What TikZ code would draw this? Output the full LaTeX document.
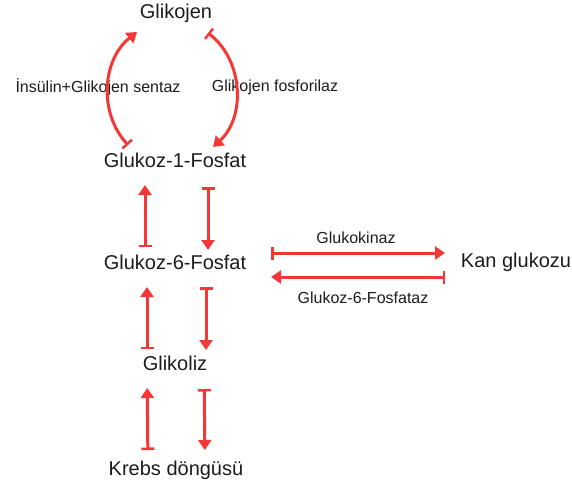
\documentclass[tikz,border=0pt]{standalone}
\usepackage{fontspec}
\setmainfont{Liberation Sans}
\usetikzlibrary{arrows.meta}

\definecolor{yolred}{RGB}{244,56,56}
\definecolor{yazi}{RGB}{28,28,28}

\tikzset{
    madde/.style={inner sep=0pt, text=yazi, font=\fontsize{20}{24}\selectfont},
    enzim/.style={inner sep=0pt, text=yazi, font=\fontsize{16}{19}\selectfont},
    yol/.style={draw=yolred, line width=3pt,
        {Bar[width=13pt,line width=2.5pt]}-{Triangle[length=10pt,width=13pt]}},
}

\begin{document}
\begin{tikzpicture}[x=1pt,y=-1pt]
    \useasboundingbox (0,0) rectangle (572,489);

    % Metabolitler
    \node[madde] (glikojen) at (176,13)  {Glikojen};
    \node[madde] (g1f)      at (175,160) {Glukoz-1-Fosfat};
    \node[madde] (g6f)      at (175,262) {Glukoz-6-Fosfat};
    \node[madde] (kan)      at (516,262) {Kan glukozu};
    \node[madde] (glikoliz) at (175,363) {Glikoliz};
    \node[madde] (krebs)    at (176,470) {Krebs döngüsü};

    % Enzimler
    \node[enzim] (sentaz)    at (98,87)   {İnsülin+Glikojen sentaz};
    \node[enzim] (fosforilaz) at (275,87) {Glikojen fosforilaz};
    \node[enzim] (kinaz)     at (356,238) {Glukokinaz};
    \node[enzim] (fosfataz)  at (363,298) {Glukoz-6-Fosfataz};

    % Glikojen <-> Glukoz-1-Fosfat
    \draw[yol] ([xshift=-47pt,yshift=15pt]g1f.center) to[bend left=47]
        ([xshift=-39pt,yshift=-19pt]glikojen.center);
    \draw[yol] ([xshift=32pt,yshift=-20pt]glikojen.center) to[bend left=50]
        ([xshift=38pt,yshift=13pt]g1f.center);

    % Dikey yollar
    \draw[yol, shorten <=15pt, shorten >=25pt] ([xshift=-30pt]g6f.center) -- ([xshift=-30pt]g1f.center);
    \draw[yol, shorten <=27pt, shorten >=12pt] ([xshift=33pt]g1f.center) -- ([xshift=33pt]g6f.center);
    \draw[yol, shorten <=14pt, shorten >=25pt] ([xshift=-28pt]glikoliz.center) -- ([xshift=-28pt]g6f.center);
    \draw[yol, shorten <=25pt, shorten >=13pt] ([xshift=31pt]g6f.center) -- ([xshift=31pt]glikoliz.center);
    \draw[yol, shorten <=20pt, shorten >=25pt] ([xshift=-28pt]krebs.center) -- ([xshift=-28pt]glikoliz.center);
    \draw[yol, shorten <=26pt, shorten >=20pt] ([xshift=29pt]glikoliz.center) -- ([xshift=29pt]krebs.center);

    % Kan glukozu
    \draw[yol, shorten <=96pt, shorten >=71pt] ([yshift=9pt]g6f.center) -- ([yshift=9pt]kan.center);
    \draw[yol, shorten <=71pt, shorten >=96pt] ([yshift=-15pt]kan.center) -- ([yshift=-15pt]g6f.center);
\end{tikzpicture}
\end{document}
